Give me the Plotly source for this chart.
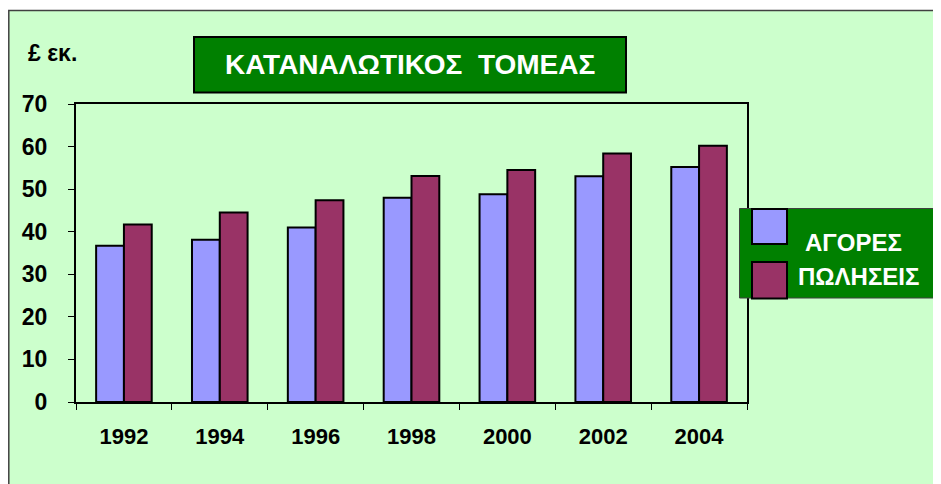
import plotly.graph_objects as go

# ---- data ----
years = ["1992", "1994", "1996", "1998", "2000", "2002", "2004"]
agores = [36.7, 38.1, 41.0, 48.0, 48.8, 53.0, 55.2]
poliseis = [41.7, 44.5, 47.4, 53.1, 54.5, 58.4, 60.2]
series_names = ["ΑΓΟΡΕΣ", "ΠΩΛΗΣΕΙΣ"]
y_ticks = [0, 10, 20, 30, 40, 50, 60, 70]
title_text = "ΚΑΤΑΝΑΛΩΤΙΚΟΣ  ΤΟΜΕΑΣ"
unit_text = "£ εκ."

# ---- styles ----
BLUE = "#9999FF"
PURPLE = "#993366"
GREEN = "#008000"
PAGE = "#CCFFCC"
PLOT_BG = "#C0C0C0"
FONT = "Liberation Sans, Arial, sans-serif"

# page body margin offset (browser default 8px)
OX, OY = 8, 8
W, H = 941 - OX, 484 - OY
# plot area in screen pixels
SL, SR, ST, SB = 76, 747, 104, 402
L, R, T, B = SL - OX, SR - OX, ST - OY, SB - OY
PW, PH = R - L, B - T


def px(x):
    """screen x -> paper x"""
    return (x - OX - L) / PW


def py(y):
    """screen y -> paper y"""
    return (B - (y - OY)) / PH


fig = go.Figure()
fig.add_trace(go.Bar(x=years, y=agores, name=series_names[0],
                     marker=dict(color=BLUE, line=dict(color="black", width=2))))
fig.add_trace(go.Bar(x=years, y=poliseis, name=series_names[1],
                     marker=dict(color=PURPLE, line=dict(color="black", width=2))))

shapes = [
    # page background with border
    dict(type="rect", xref="paper", yref="paper", layer="below",
         x0=px(8.8), x1=px(970), y0=py(10.5), y1=py(520),
         fillcolor=PAGE, line=dict(color="#404040", width=1.5)),
    # title box
    dict(type="rect", xref="paper", yref="paper",
         x0=px(194), x1=px(626), y0=py(37), y1=py(92.5),
         fillcolor=GREEN, line=dict(color="black", width=2)),
    # legend box
    dict(type="rect", xref="paper", yref="paper",
         x0=px(739.5), x1=px(970), y0=py(208.5), y1=py(298),
         fillcolor=GREEN, line=dict(color="#404040", width=1)),
    # legend swatches
    dict(type="rect", xref="paper", yref="paper",
         x0=px(752), x1=px(787), y0=py(209), y1=py(244),
         fillcolor=BLUE, line=dict(color="black", width=2)),
    dict(type="rect", xref="paper", yref="paper",
         x0=px(752), x1=px(787), y0=py(262), y1=py(298.5),
         fillcolor=PURPLE, line=dict(color="black", width=2)),
]

annotations = [
    dict(text=title_text, xref="paper", yref="paper", x=px(410), y=py(64.5),
         xanchor="center", yanchor="middle", showarrow=False,
         font=dict(family=FONT, size=28, color="white", weight="bold")),
    dict(text=unit_text, xref="paper", yref="paper", x=px(26), y=py(53),
         xanchor="left", yanchor="middle", showarrow=False,
         font=dict(family=FONT, size=23, color="black", weight="bold")),
    dict(text=series_names[0], xref="paper", yref="paper", x=px(853), y=py(242),
         xanchor="center", yanchor="middle", showarrow=False,
         font=dict(family=FONT, size=24, color="white", weight="bold")),
    dict(text=series_names[1], xref="paper", yref="paper", x=px(859), y=py(276),
         xanchor="center", yanchor="middle", showarrow=False,
         font=dict(family=FONT, size=24, color="white", weight="bold")),
]

fig.update_layout(
    width=W, height=H,
    margin=dict(l=L, r=W - R, t=T, b=H - B, pad=0),
    paper_bgcolor="white",
    plot_bgcolor=PLOT_BG,
    barmode="group",
    bargap=0.42,
    bargroupgap=0,
    showlegend=False,
    shapes=shapes,
    annotations=annotations,
    xaxis=dict(
        type="category", tickson="boundaries", ticks="outside", ticklen=6,
        tickcolor="black", showline=True, linecolor="black", linewidth=2,
        mirror=True, showgrid=False, ticklabelstandoff=14,
        tickfont=dict(family=FONT, size=22, color="black", weight="bold"),
    ),
    yaxis=dict(
        range=[0, 70], tickvals=y_ticks, ticks="outside", ticklen=6,
        tickcolor="black", showline=True, linecolor="black", linewidth=2,
        mirror=True, showgrid=False, zeroline=False, ticklabelstandoff=16,
        tickfont=dict(family=FONT, size=23, color="black", weight="bold"),
    ),
)

fig.write_html("out.html")
